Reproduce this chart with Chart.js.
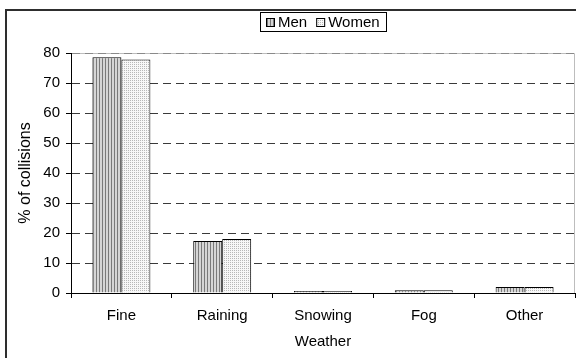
<!DOCTYPE html>
<html>
<head>
<meta charset="utf-8">
<script src="https://cdn.jsdelivr.net/npm/chart.js@4/dist/chart.umd.min.js"></script>
<style>
  html, body { margin: 0; padding: 0; background: #fff; }
  #wrap { width: 576px; height: 358px; position: relative; }
</style>
</head>
<body>
<div id="wrap"><canvas id="c" width="576" height="358"></canvas></div>
<script>
// Weather conditions at the time of collision, split by driver sex
const categories = ['Fine', 'Raining', 'Snowing', 'Fog', 'Other'];
const menValues = [78.6, 17.3, 0.7, 0.9, 2.0];
const womenValues = [77.8, 18.0, 0.7, 0.9, 2.0];
const yTicks = [0, 10, 20, 30, 40, 50, 60, 70, 80];

const FONT = "'Liberation Sans', Arial, sans-serif";

// Hatched fills: vertical stripes and a light dot grid
function stripePattern() {
  const c = document.createElement('canvas');
  c.width = 3; c.height = 1;
  const g = c.getContext('2d');
  g.fillStyle = '#d6d6d6'; g.fillRect(0, 0, 3, 1);
  g.fillStyle = '#7a7a7a'; g.fillRect(0, 0, 1, 1);
  return g.createPattern(c, 'repeat');
}
function dotPattern() {
  const c = document.createElement('canvas');
  c.width = 4; c.height = 4;
  const g = c.getContext('2d');
  g.fillStyle = '#f8f8f8'; g.fillRect(0, 0, 4, 4);
  g.fillStyle = '#b8b8b8';
  g.fillRect(0, 0, 1, 1); g.fillRect(2, 2, 1, 1);
  g.fillRect(2, 0, 1, 1); g.fillRect(0, 2, 1, 1);
  return g.createPattern(c, 'repeat');
}
const menFill = stripePattern();
const womenFill = dotPattern();

// Page frame, plot-area outline and boxed legend
const framePlugin = {
  id: 'frame',
  beforeDraw(chart) {
    const ctx = chart.ctx, a = chart.chartArea;
    ctx.save();
    ctx.fillStyle = '#fff';
    ctx.fillRect(0, 0, chart.width, chart.height);
    ctx.strokeStyle = '#bdbdbd';
    ctx.lineWidth = 1;
    ctx.beginPath();
    ctx.moveTo(a.left, a.top + 0.5);
    ctx.lineTo(a.right - 0.5, a.top + 0.5);
    ctx.lineTo(a.right - 0.5, a.bottom);
    ctx.stroke();
    ctx.restore();
  },
  afterDraw(chart) {
    const ctx = chart.ctx;
    ctx.save();
    ctx.strokeStyle = '#2e2e2e';
    ctx.lineWidth = 2;
    ctx.beginPath();
    ctx.moveTo(6, chart.height);
    ctx.lineTo(6, 10);
    ctx.lineTo(chart.width, 10);
    ctx.stroke();

    // legend
    ctx.font = '15px ' + FONT;
    ctx.textBaseline = 'middle';
    const items = chart.data.datasets.map(d => ({ label: d.label, fill: d.backgroundColor }));
    const box = 9, gapIcon = 3, gapItem = 9, padX = 6;
    let content = 0;
    items.forEach((it, i) => {
      it.w = ctx.measureText(it.label).width;
      content += box + gapIcon + it.w + (i ? gapItem : 0);
    });
    const cx = (chart.chartArea.left + chart.chartArea.right) / 2;
    const left = Math.round(cx - content / 2 - padX);
    const w = Math.round(content + padX * 2);
    const top = 12, h = 19, mid = top + h / 2 + 1;
    ctx.fillStyle = '#fff';
    ctx.fillRect(left, top, w, h);
    ctx.strokeStyle = '#000';
    ctx.lineWidth = 1;
    ctx.strokeRect(left + 0.5, top + 0.5, w, h);
    let x = left + padX;
    items.forEach((it, i) => {
      if (i) x += gapItem;
      const by = Math.round(mid - box / 2);
      ctx.fillStyle = it.fill;
      ctx.fillRect(x, by, box, box);
      ctx.strokeRect(x + 0.5, by + 0.5, box - 1, box - 1);
      x += box + gapIcon;
      ctx.fillStyle = '#000';
      ctx.textAlign = 'left';
      ctx.fillText(it.label, x, mid);
      x += it.w;
    });
    ctx.restore();
  }
};

new Chart(document.getElementById('c'), {
  type: 'bar',
  data: {
    labels: categories,
    datasets: [
      { label: 'Men', data: menValues, backgroundColor: menFill, borderColor: '#000', borderWidth: 1, borderSkipped: 'start' },
      { label: 'Women', data: womenValues, backgroundColor: womenFill, borderColor: '#000', borderWidth: 1, borderSkipped: 'start' }
    ]
  },
  options: {
    responsive: false,
    animation: false,
    devicePixelRatio: 1,
    layout: { padding: { top: 53, right: 1, left: 0, bottom: 0 } },
    datasets: { bar: { categoryPercentage: 0.575, barPercentage: 1.0 } },
    plugins: {
      legend: { display: false },
      tooltip: { enabled: false },
      title: { display: false }
    },
    scales: {
      x: {
        offset: true,
        grid: { offset: true, drawOnChartArea: false, drawTicks: true, tickLength: 5, color: '#000', tickColor: '#000' },
        border: { display: true, color: '#000', width: 1 },
        ticks: { color: '#000', font: { family: FONT, size: 15 }, padding: 9, maxRotation: 0 },
        title: { display: true, text: 'Weather', color: '#000', font: { family: FONT, size: 15 }, padding: { top: 0, bottom: 7 } },
        afterFit(s) { s.height = 65; }
      },
      y: {
        min: 0, max: 80,
        afterBuildTicks(s) { s.ticks = yTicks.map(v => ({ value: v })); },
        grid: {
          drawTicks: true, tickLength: 5,
          color: c => (c.tick && c.tick.value === 80) ? '#8a8a8a' : '#3a3a3a',
          tickColor: '#000', tickBorderDash: [], lineWidth: 1
        },
        border: { display: true, color: '#000', width: 1, dash: [8, 5] },
        ticks: { color: '#000', font: { family: FONT, size: 15 }, padding: 6 },
        title: { display: true, text: '% of collisions', color: '#000', font: { family: FONT, size: 16 }, padding: { top: 16, bottom: 0 } },
        afterFit(s) { s.width = 71; }
      }
    }
  },
  plugins: [framePlugin]
});
</script>
</body>
</html>
